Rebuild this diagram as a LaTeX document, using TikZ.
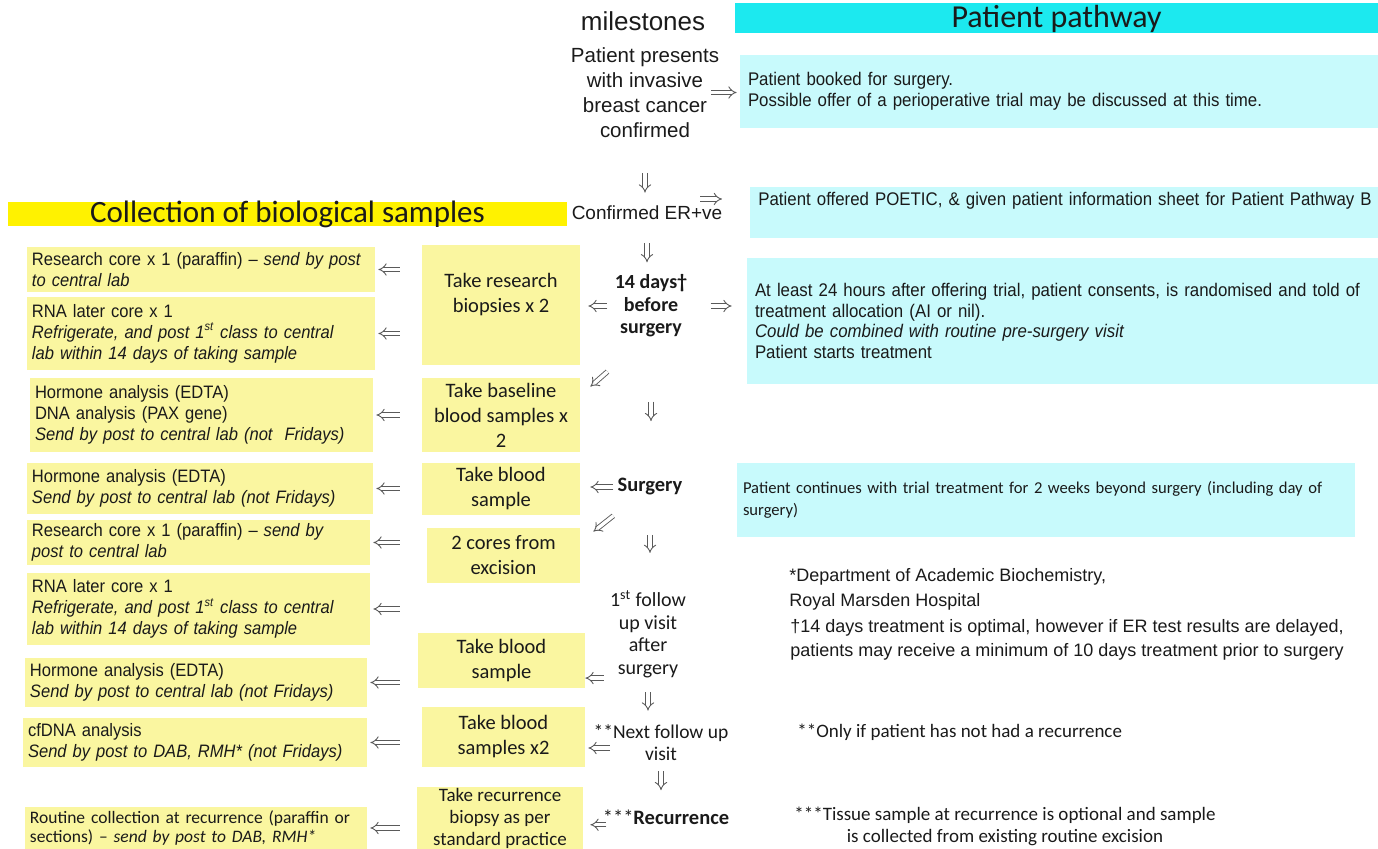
\documentclass[tikz,border=0pt]{standalone}
\usepackage{fontspec}
\setmainfont{Liberation Sans}
\newfontfamily\narrow{Liberation Sans}[FakeStretch=0.92]
\newfontfamily\calib{Carlito}
\usepackage{tikz}
\usetikzlibrary{arrows.meta}
\definecolor{ink}{HTML}{1A1A1A}
\definecolor{arrowgray}{HTML}{5A5A5A}
\definecolor{yelhead}{HTML}{FFF200}
\definecolor{yelbox}{HTML}{FAF6A0}
\definecolor{cyanhead}{HTML}{1CE9EF}
\definecolor{cyanbox}{HTML}{C8FAFC}
\tikzset{
  lbox/.style={fill=yelbox, text=ink, align=left, inner xsep=2.5pt, inner ysep=0pt, font=\narrow\fontsize{9}{10.5}\selectfont},
  mbox/.style={fill=yelbox, text=ink, align=center, inner sep=0pt, font=\calib\fontsize{10.25}{12.5}\selectfont},
  cbox/.style={fill=cyanbox, text=ink, align=left, inner xsep=4pt, inner ysep=0pt, font=\narrow\fontsize{9.15}{10.25}\selectfont},
  mile/.style={text=ink, align=center, inner sep=0pt, font=\fontsize{10.25}{12.5}\selectfont},
  milec/.style={text=ink, align=center, inner sep=0pt, font=\calib\fontsize{10}{11.3}\selectfont},
  note/.style={text=ink, align=left, inner sep=0pt, font=\fontsize{9}{12}\selectfont},
  notec/.style={text=ink, align=center, inner sep=0pt, font=\calib\fontsize{9.5}{11}\selectfont},
  arr/.style={draw=arrowgray, double, double distance=1.7pt, line width=0.45pt, -{Implies}},
  lft/.style={arr, shorten <=11pt, shorten >=1.5pt},
}
\begin{document}
\begin{tikzpicture}[x=0.5pt, y=-0.5pt]
  \useasboundingbox (0,0) rectangle (1378,849);

  % headers
  \node[fill=yelhead, text=ink, minimum width=279.5pt, inner sep=0pt, text height=10.5pt, text depth=1.5pt,
        font=\calib\fontsize{15.5}{18}\selectfont] (colhead) at (287.5,214) {Collection of biological samples};
  \node[fill=cyanhead, text=ink, minimum width=321.5pt, inner sep=0pt, text height=12.5pt, text depth=2.5pt,
        font=\calib\fontsize{16}{18}\selectfont] (pathhead) at (1056.5,18) {Patient pathway};
  \node[mile, font=\fontsize{13}{15}\selectfont] (ms) at (643,21) {milestones};

  % milestones
  \node[mile] (pres) at (645,92.5) {Patient presents\\with invasive\\breast cancer\\confirmed};
  \node[mile, font=\fontsize{9.5}{11}\selectfont] (conf) at (647,213) {Confirmed ER+ve};
  \node[milec, font=\calib\bfseries\fontsize{10}{11.25}\selectfont] (d14) at (651,306) {14 days†\\before\\surgery};
  \node[milec, font=\calib\bfseries\fontsize{10.25}{12}\selectfont] (surg) at (650,487) {Surgery};
  \node[milec] (fu1) at (648,634) {1\textsuperscript{st} follow\\up visit\\after\\surgery};
  \node[milec, font=\calib\fontsize{9.75}{11}\selectfont] (fu2) at (661,743) {**Next follow up\\visit};
  \node[milec, font=\calib\fontsize{10.25}{12}\selectfont] (rec) at (666,817) {***\textbf{Recurrence}};

  % patient pathway
  \node[cbox, minimum width=319pt, minimum height=36.5pt, text width=311pt] (c1) at (1059,91.5)
    {Patient booked for surgery.\\Possible offer of a perioperative trial may be discussed at this time.};
  \node[cbox, anchor=north west, text width=318pt, text height=9pt, text depth=16.5pt] (c2) at (750,187)
    {Patient offered POETIC, \& given patient information sheet for Patient Pathway B};
  \node[cbox, minimum width=315.5pt, minimum height=63pt, text width=307.5pt] (c3) at (1062.5,321)
    {At least 24 hours after offering trial, patient consents, is randomised and told of\\treatment allocation (AI or nil).\\\textit{Could be combined with routine pre-surgery visit}\\Patient starts treatment};
  \node[cbox, inner xsep=3pt, minimum width=309pt, minimum height=37pt, text width=303pt,
        font=\calib\fontsize{8.3}{11}\selectfont] (c4) at (1046,500)
    {Patient continues with trial treatment for 2 weeks beyond surgery (including day of\\surgery)};

  % samples taken
  \node[mbox, minimum width=79pt, minimum height=60pt] (m1) at (501,305)
    {\parbox[c][52pt][t]{79pt}{\centering\vspace*{10pt}Take research\\biopsies x 2}};
  \node[mbox, minimum width=79pt, minimum height=37pt] (m2) at (501,415) {Take baseline\\blood samples x\\2};
  \node[mbox, minimum width=79pt, minimum height=26pt] (m3) at (501,489) {Take blood\\sample};
  \node[mbox, minimum width=76.5pt, minimum height=27.5pt] (m4) at (503.5,555.5) {2 cores from\\excision};
  \node[mbox, minimum width=83.5pt, minimum height=27.5pt] (m5) at (501.5,660.5) {Take blood\\sample};
  \node[mbox, minimum width=81.5pt, minimum height=30pt] (m6) at (503.5,737) {Take blood\\samples x2};
  \node[mbox, minimum width=83pt, minimum height=31pt, font=\calib\fontsize{9.5}{11}\selectfont] (m7) at (500,818)
    {Take recurrence\\biopsy as per\\standard practice};

  % handling
  \node[lbox, text width=169pt, minimum height=22.5pt] (l1) at (201,269.5)
    {Research core x 1 (paraffin) – \textit{send by post}\\\textit{to central lab}};
  \node[lbox, text width=169pt, minimum height=36.5pt] (l2) at (201,333.5)
    {RNA later core x 1\\\textit{Refrigerate, and post 1\textsuperscript{st} class to central}\\\textit{lab within 14 days of taking sample}};
  \node[lbox, text width=166.5pt, minimum height=37pt] (l3) at (201.5,415)
    {Hormone analysis (EDTA)\\DNA analysis (PAX gene)\\\textit{Send by post to central lab (not\ \ Fridays)}};
  \node[lbox, text width=168pt, minimum height=25.5pt] (l4) at (200,488.5)
    {Hormone analysis (EDTA)\\\textit{Send by post to central lab (not Fridays)}};
  \node[lbox, text width=166.5pt, minimum height=22.5pt] (l5) at (198.5,542.5)
    {Research core x 1 (paraffin) – \textit{send by}\\\textit{post to central lab}};
  \node[lbox, text width=166.5pt, minimum height=36pt] (l6) at (198.5,609)
    {RNA later core x 1\\\textit{Refrigerate, and post 1\textsuperscript{st} class to central}\\\textit{lab within 14 days of taking sample}};
  \node[lbox, text width=166pt, minimum height=24.5pt] (l7) at (196,682.5)
    {Hormone analysis (EDTA)\\\textit{Send by post to central lab (not Fridays)}};
  \node[lbox, text width=167pt, minimum height=24.5pt] (l8) at (195,742.5)
    {cfDNA analysis\\\textit{Send by post to DAB, RMH* (not Fridays)}};
  \node[lbox, text width=166pt, minimum height=21pt, font=\calib\fontsize{8.75}{9.5}\selectfont] (l9) at (196,828)
    {Routine collection at recurrence (paraffin or\\sections) – \textit{send by post to DAB, RMH*}};

  % notes
  \node[note, font=\fontsize{9}{12.5}\selectfont, anchor=west] (fnA) at (789,589.5)
    {*Department of Academic Biochemistry,\\Royal Marsden Hospital};
  \node[note, anchor=west] (fnB) at (790,640)
    {†14 days treatment is optimal, however if ER test results are delayed,\\patients may receive a minimum of 10 days treatment prior to surgery};
  \node[notec, anchor=west] (fnC) at (797,732) {**Only if patient has not had a recurrence};
  \node[notec] (fnD) at (1005,826)
    {***Tissue sample at recurrence is optional and sample\\is collected from existing routine excision};

  % milestone arrows
  \draw[arr, shorten <=17.5pt, shorten >=6.5pt] (pres.south) -- (pres.south |- conf.north);
  \draw[arr, shorten <=11.5pt, shorten >=6pt] (conf.south) -- (conf.south |- d14.north);
  \draw[arr, shorten <=32pt, shorten >=28.5pt] (d14.south) -- (d14.south |- surg.north);
  \draw[arr, shorten <=19.5pt, shorten >=18.5pt] (surg.south) -- (surg.south |- fu1.north);
  \draw[arr, shorten <=7pt, shorten >=7pt] (fu1.south) -- (fu1.south |- fu2.north);
  \draw[arr, shorten <=5pt, shorten >=9.5pt] (fu2.south) -- (fu2.south |- rec.north);

  \coordinate (confarr) at (700,199);
  \coordinate (fu2arr) at (610,748);
  \draw[arr, shorten <=-4pt, shorten >=1.5pt] (pres.east) -- (pres.east -| c1.west);
  \draw[arr, shorten >=14pt] (confarr) -- (confarr -| c2.west);
  \draw[arr, shorten <=11.5pt, shorten >=7.5pt] (d14.east) -- (d14.east -| c3.west);

  \draw[arr, shorten <=3.5pt, shorten >=4pt] (d14.west) -- (d14.west -| m1.east);
  \draw[arr, shorten <=2pt, shorten >=5pt] (surg.west) -- (surg.west -| m3.east);
  \draw[arr, shorten <=3pt] (fu1.south west) -- (fu1.south west -| m5.east);
  \draw[arr, shorten >=1.5pt] (fu2arr) -- (fu2arr -| m6.east);
  \draw[arr, shorten <=-2pt, shorten >=3.5pt] (rec.south west) -- (rec.south west -| m7.east);
  \draw[arr] ([shift={(-7,34)}]d14.south west) -- ([shift={(10,9)}]m2.north east);
  \draw[arr] ([shift={(-4,20)}]surg.south west) -- ([shift={(13,4)}]m4.north east);

  % sample arrows
  \draw[lft] (m1.west |- l1.east) -- (l1.east);
  \draw[lft] (m1.west |- l2.east) -- (l2.east);
  \draw[lft] (m2.west |- l3.east) -- (l3.east);
  \draw[lft] (m3.west |- l4.east) -- (l4.east);
  \draw[lft, shorten <=13.5pt] (m4.west |- l5.east) -- (l5.east);
  \draw[lft, shorten <=13.5pt] (m4.west |- l6.east) -- (l6.east);
  \draw[lft, shorten <=9pt] (m5.west |- l7.east) -- (l7.east);
  \draw[lft] (m6.west |- l8.east) -- (l8.east);
  \draw[lft, shorten <=8.5pt] (m7.west |- l9.east) -- (l9.east);
\end{tikzpicture}
\end{document}
